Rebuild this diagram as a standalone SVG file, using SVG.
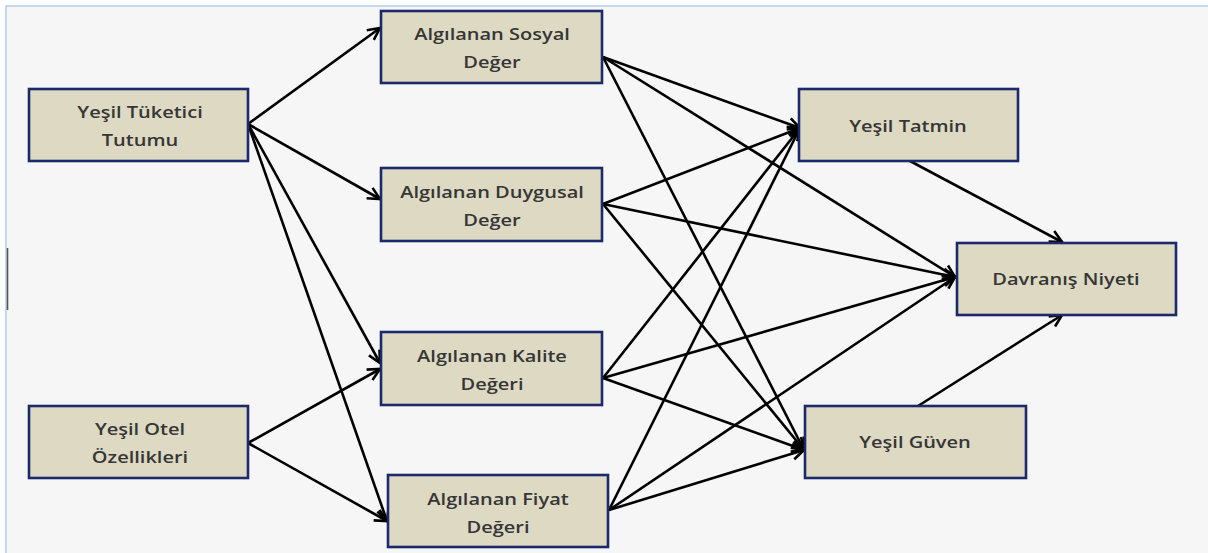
<svg xmlns="http://www.w3.org/2000/svg" width="1208" height="553" viewBox="0 0 1208 553">
  <style>
    .box { fill: #ddd9c3; stroke: #1c2a6b; stroke-width: 2.6; }
    .lbl { font-family: "Open Sans", "Liberation Sans", sans-serif; font-weight: 600; font-size: 16px; fill: #363636; text-anchor: middle; }
    .edge { stroke: #000; stroke-width: 2.6; fill: none; marker-end: url(#arrow); }
  </style>
  <defs>
    <marker id="arrow" markerUnits="userSpaceOnUse" markerWidth="16" markerHeight="16" viewBox="0 0 16 16" refX="14" refY="8" orient="auto">
      <path d="M2,2 L14,8 L2,14" fill="none" stroke="#000" stroke-width="2.6" stroke-linejoin="miter"/>
    </marker>
  </defs>

  <!-- page background and frame -->
  <rect x="0" y="0" width="1208" height="553" fill="#ffffff"/>
  <rect x="6" y="6" width="1210" height="560" fill="#f6f6f6" stroke="#b4cce4" stroke-width="1.5"/>
  <line x1="7.5" y1="248" x2="7.5" y2="310" stroke="#555" stroke-width="1.6"/>

  <!-- connectors -->
  <g id="connectors">
    <line class="edge" x1="248" y1="124" x2="380" y2="28"/>
    <line class="edge" x1="248" y1="124" x2="380" y2="199"/>
    <line class="edge" x1="248" y1="124" x2="380" y2="363"/>
    <line class="edge" x1="248" y1="124" x2="387" y2="521"/>
    <line class="edge" x1="248" y1="443" x2="380" y2="369"/>
    <line class="edge" x1="248" y1="443" x2="387" y2="521"/>

    <line class="edge" x1="603" y1="57" x2="800" y2="128"/>
    <line class="edge" x1="603" y1="57" x2="955" y2="277"/>
    <line class="edge" x1="603" y1="57" x2="804" y2="450"/>

    <line class="edge" x1="603" y1="204" x2="800" y2="128"/>
    <line class="edge" x1="603" y1="204" x2="955" y2="277"/>
    <line class="edge" x1="603" y1="204" x2="804" y2="450"/>

    <line class="edge" x1="603" y1="378" x2="800" y2="128"/>
    <line class="edge" x1="603" y1="378" x2="955" y2="277"/>
    <line class="edge" x1="603" y1="378" x2="804" y2="450"/>

    <line class="edge" x1="609" y1="510" x2="800" y2="128"/>
    <line class="edge" x1="609" y1="510" x2="955" y2="277"/>
    <line class="edge" x1="609" y1="510" x2="804" y2="450"/>

    <line class="edge" x1="910" y1="161" x2="1062" y2="242"/>
    <line class="edge" x1="918" y1="406" x2="1062" y2="315"/>
  </g>

  <!-- nodes: labels are set in a horizontally widened face -->
  <g id="yesil-tuketici-tutumu">
    <rect class="box" x="29" y="89" width="219" height="72"/>
    <g transform="translate(140,0) scale(1.25,1)">
      <text class="lbl" x="0" y="118">Yeşil Tüketici</text>
      <text class="lbl" x="0" y="146">Tutumu</text>
    </g>
  </g>
  <g id="yesil-otel-ozellikleri">
    <rect class="box" x="29" y="406" width="219" height="72"/>
    <g transform="translate(140,0) scale(1.25,1)">
      <text class="lbl" x="0" y="435">Yeşil Otel</text>
      <text class="lbl" x="0" y="463">Özellikleri</text>
    </g>
  </g>
  <g id="algilanan-sosyal-deger">
    <rect class="box" x="381" y="11" width="221" height="72"/>
    <g transform="translate(492,0) scale(1.25,1)">
      <text class="lbl" x="0" y="40">Algılanan Sosyal</text>
      <text class="lbl" x="0" y="68">Değer</text>
    </g>
  </g>
  <g id="algilanan-duygusal-deger">
    <rect class="box" x="381" y="168" width="221" height="73"/>
    <g transform="translate(492,0) scale(1.25,1)">
      <text class="lbl" x="0" y="198">Algılanan Duygusal</text>
      <text class="lbl" x="0" y="226">Değer</text>
    </g>
  </g>
  <g id="algilanan-kalite-degeri">
    <rect class="box" x="381" y="332" width="221" height="73"/>
    <g transform="translate(492,0) scale(1.25,1)">
      <text class="lbl" x="0" y="362">Algılanan Kalite</text>
      <text class="lbl" x="0" y="390">Değeri</text>
    </g>
  </g>
  <g id="algilanan-fiyat-degeri">
    <rect class="box" x="388" y="475" width="220" height="72"/>
    <g transform="translate(498,0) scale(1.25,1)">
      <text class="lbl" x="0" y="505">Algılanan Fiyat</text>
      <text class="lbl" x="0" y="533">Değeri</text>
    </g>
  </g>
  <g id="yesil-tatmin">
    <rect class="box" x="799" y="89" width="219" height="72"/>
    <g transform="translate(908,0) scale(1.25,1)">
      <text class="lbl" x="0" y="132">Yeşil Tatmin</text>
    </g>
  </g>
  <g id="davranis-niyeti">
    <rect class="box" x="957" y="243" width="219" height="72"/>
    <g transform="translate(1066,0) scale(1.25,1)">
      <text class="lbl" x="0" y="285">Davranış Niyeti</text>
    </g>
  </g>
  <g id="yesil-guven">
    <rect class="box" x="805" y="406" width="221" height="72"/>
    <g transform="translate(915,0) scale(1.25,1)">
      <text class="lbl" x="0" y="448">Yeşil Güven</text>
    </g>
  </g>
</svg>
